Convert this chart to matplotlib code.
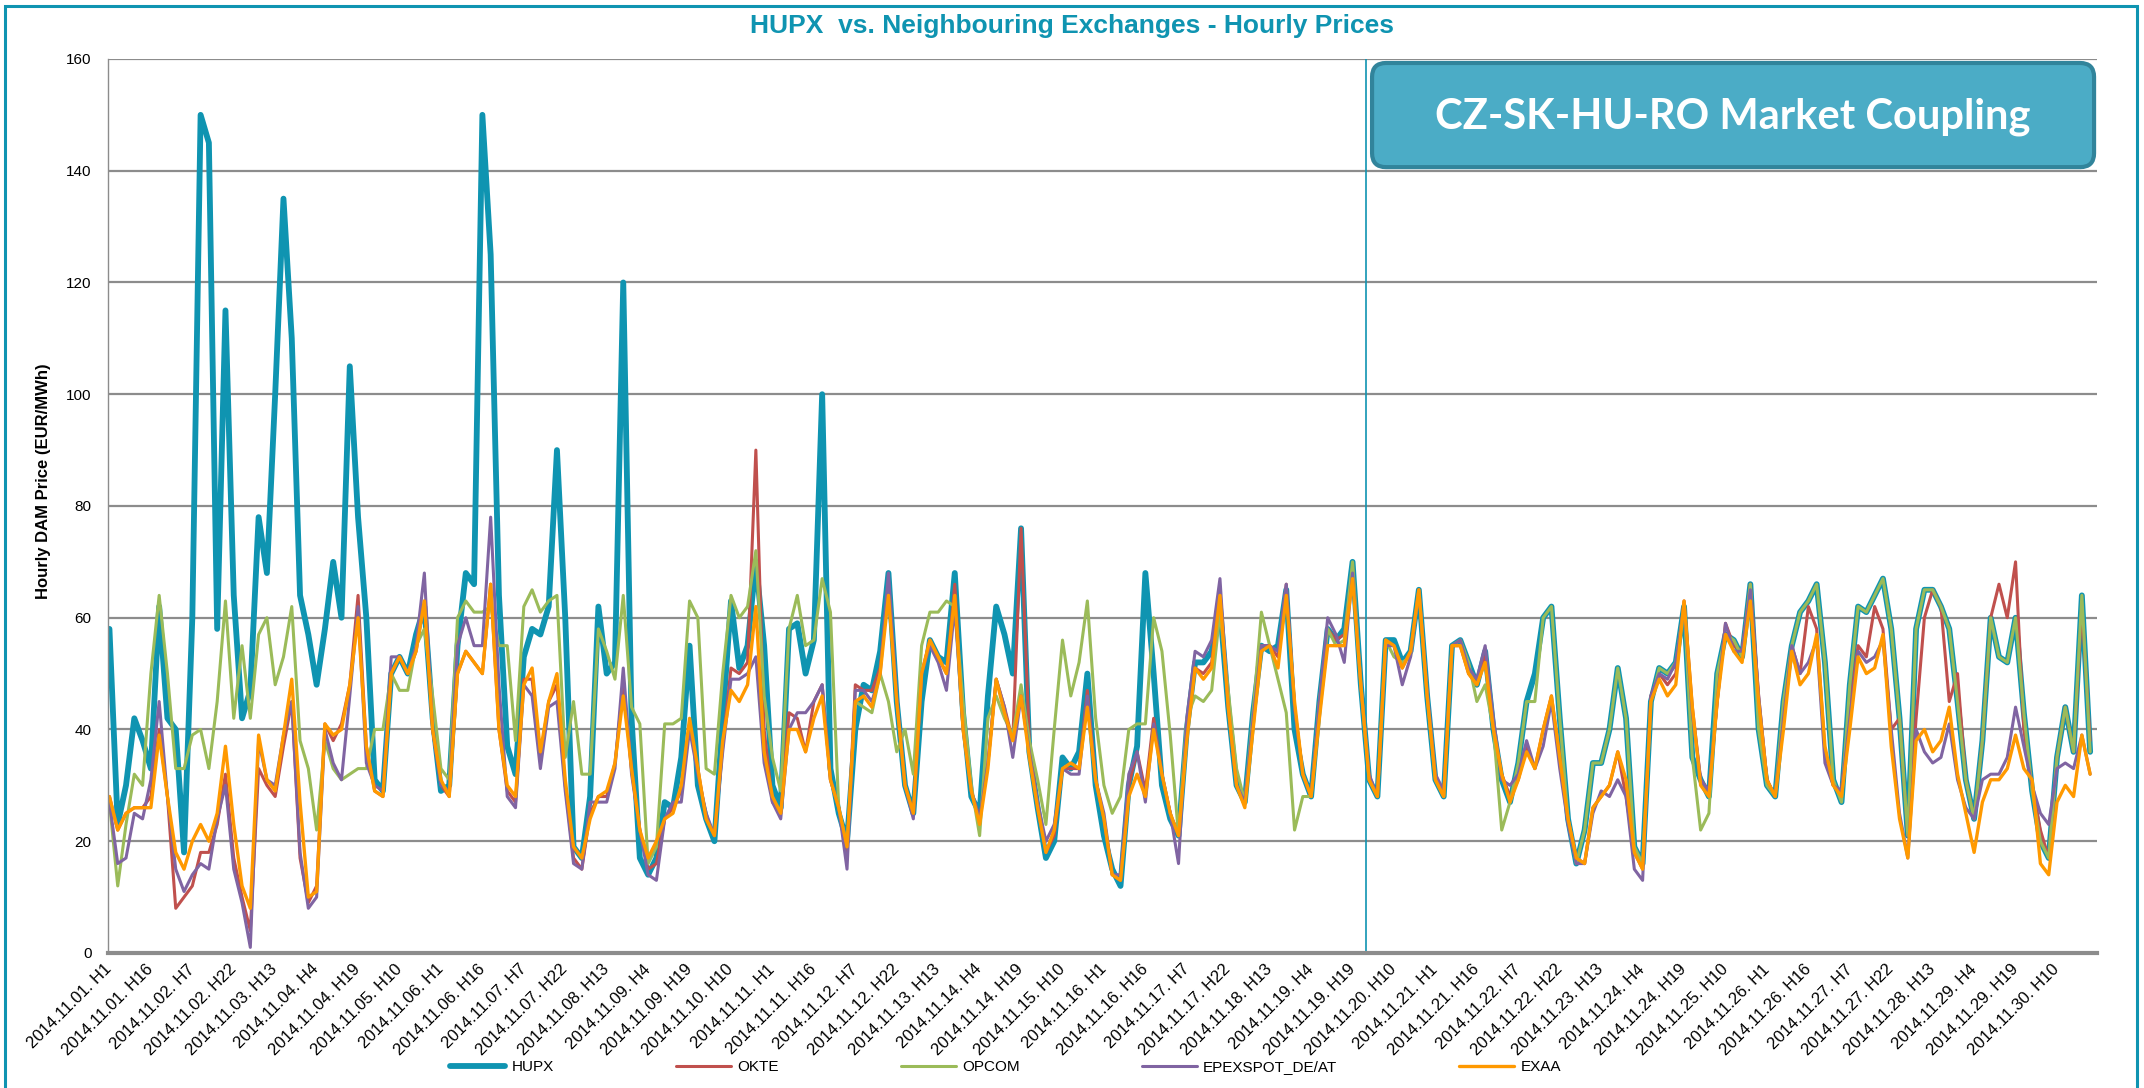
"""
HUPX vs. neighbouring exchanges - hourly day-ahead prices, November 2014
"""

# --- IMPORTS ---
import matplotlib
matplotlib.use('Agg')
import matplotlib.pyplot as plt
from matplotlib.patches import FancyBboxPatch, Rectangle

plt.rcParams['font.family'] = ['Liberation Sans', 'DejaVu Sans']

# --- DATA ---
# prices read every 3rd hour (H1, H4, H7, H10, H13, H16, H19, H22), one row per day
hours = list(range(0, 720, 3))

hupx = [
    58, 23, 30, 42, 38, 33, 62, 42,      # 11.01
    40, 18, 60, 150, 145, 58, 115, 64,   # 11.02
    42, 47, 78, 68, 100, 135, 110, 64,   # 11.03
    57, 48, 58, 70, 60, 105, 78, 60,     # 11.04
    31, 29, 50, 53, 50, 57, 62, 42,      # 11.05
    29, 30, 55, 68, 66, 150, 125, 64,    # 11.06
    37, 32, 53, 58, 57, 62, 90, 60,      # 11.07
    19, 17, 28, 62, 50, 52, 120, 42,     # 11.08
    17, 14, 17, 27, 26, 35, 55, 30,      # 11.09
    24, 20, 42, 63, 51, 55, 70, 55,      # 11.10
    30, 26, 58, 59, 50, 56, 100, 33,     # 11.11
    25, 20, 40, 48, 47, 54, 68, 45,      # 11.12
    30, 25, 45, 56, 53, 52, 68, 43,      # 11.13
    28, 25, 46, 62, 57, 50, 76, 36,      # 11.14
    26, 17, 20, 35, 33, 36, 50, 30,      # 11.15
    21, 15, 12, 30, 37, 68, 50, 30,      # 11.16
    24, 21, 40, 52, 52, 54, 62, 44,      # 11.17
    30, 27, 43, 55, 54, 55, 65, 40,      # 11.18
    32, 28, 45, 58, 56, 58, 70, 48,      # 11.19
    31, 28, 56, 56, 52, 54, 65, 46,      # 11.20
    31, 28, 55, 56, 52, 48, 54, 40,      # 11.21
    31, 27, 34, 45, 50, 60, 62, 42,      # 11.22
    24, 16, 22, 34, 34, 40, 51, 42,      # 11.23
    19, 16, 45, 51, 50, 52, 62, 35,      # 11.24
    31, 28, 50, 57, 56, 53, 66, 40,      # 11.25
    30, 28, 45, 55, 61, 63, 66, 52,      # 11.26
    31, 27, 48, 62, 61, 64, 67, 58,      # 11.27
    42, 21, 58, 65, 65, 62, 58, 45,      # 11.28
    31, 24, 38, 60, 53, 52, 60, 43,      # 11.29
    29, 20, 17, 35, 44, 36, 64, 36,      # 11.30
]

okte = [
    28, 22, 25, 26, 26, 28, 40, 28,
    8, 10, 12, 18, 18, 23, 32, 17,
    10, 4, 33, 30, 28, 37, 45, 17,
    9, 12, 41, 38, 41, 48, 64, 37,
    29, 28, 50, 53, 50, 54, 63, 40,
    30, 28, 50, 54, 52, 50, 66, 40,
    29, 27, 49, 49, 35, 45, 48, 30,
    17, 15, 25, 28, 28, 34, 48, 33,
    22, 15, 16, 24, 26, 29, 41, 33,
    24, 21, 37, 51, 50, 52, 90, 40,
    27, 25, 43, 42, 36, 45, 48, 31,
    26, 18, 48, 47, 47, 51, 66, 45,
    30, 25, 50, 56, 53, 50, 66, 41,
    29, 24, 34, 49, 44, 38, 76, 38,
    26, 18, 21, 33, 33, 33, 47, 31,
    24, 14, 13, 30, 36, 29, 42, 32,
    25, 21, 40, 51, 50, 52, 65, 44,
    30, 27, 42, 55, 55, 53, 66, 44,
    32, 28, 45, 58, 56, 57, 69, 48,
    31, 28, 56, 55, 51, 54, 65, 46,
    31, 28, 55, 55, 50, 48, 53, 40,
    32, 28, 31, 37, 33, 40, 46, 35,
    24, 17, 16, 26, 28, 30, 36, 28,
    18, 15, 46, 50, 48, 50, 63, 44,
    31, 29, 45, 59, 55, 54, 66, 46,
    31, 28, 44, 55, 50, 62, 58, 36,
    30, 29, 44, 55, 53, 62, 58, 40,
    42, 21, 42, 60, 65, 62, 45, 50,
    31, 24, 38, 60, 66, 60, 70, 40,
    30, 22, 17, 35, 44, 36, 62, 38,
]

opcom = [
    27, 12, 23, 32, 30, 50, 64, 50,
    33, 33, 39, 40, 33, 45, 63, 42,
    55, 42, 57, 60, 48, 53, 62, 38,
    33, 22, 38, 33, 31, 32, 33, 33,
    40, 40, 50, 47, 47, 55, 58, 46,
    33, 31, 60, 63, 61, 61, 62, 55,
    55, 38, 62, 65, 61, 63, 64, 35,
    45, 32, 32, 58, 54, 49, 64, 44,
    41, 16, 19, 41, 41, 42, 63, 60,
    33, 32, 50, 64, 60, 62, 72, 46,
    35, 29, 58, 64, 55, 56, 67, 61,
    26, 19, 45, 44, 43, 50, 45, 36,
    40, 32, 55, 61, 61, 63, 62, 45,
    30, 21, 42, 46, 42, 39, 48, 38,
    31, 23, 40, 56, 46, 52, 63, 42,
    30, 25, 28, 40, 41, 41, 60, 54,
    39, 21, 42, 46, 45, 47, 61, 47,
    33, 27, 43, 61, 55, 49, 43, 22,
    28, 28, 45, 58, 55, 56, 70, 48,
    31, 28, 56, 53, 52, 53, 65, 46,
    31, 28, 55, 56, 52, 45, 48, 40,
    22, 27, 34, 45, 45, 60, 62, 42,
    24, 16, 22, 34, 34, 40, 51, 42,
    19, 16, 45, 51, 50, 52, 62, 35,
    22, 25, 50, 57, 56, 53, 66, 40,
    30, 28, 45, 55, 61, 63, 66, 52,
    31, 27, 48, 62, 61, 64, 67, 58,
    42, 21, 58, 65, 65, 62, 58, 45,
    31, 24, 38, 60, 53, 52, 60, 43,
    29, 20, 17, 35, 44, 36, 64, 36,
]

epex = [
    27, 16, 17, 25, 24, 31, 45, 28,
    15, 11, 14, 16, 15, 24, 30, 15,
    9, 1, 38, 31, 30, 39, 45, 18,
    8, 10, 40, 34, 31, 46, 62, 34,
    30, 29, 53, 53, 50, 55, 68, 40,
    30, 29, 55, 60, 55, 55, 78, 48,
    28, 26, 48, 46, 33, 44, 45, 29,
    16, 15, 27, 27, 27, 33, 51, 32,
    22, 14, 13, 24, 27, 27, 40, 32,
    25, 21, 36, 49, 49, 50, 53, 34,
    27, 24, 40, 43, 43, 45, 48, 31,
    26, 15, 47, 47, 45, 50, 68, 46,
    30, 24, 50, 55, 52, 47, 62, 40,
    29, 24, 34, 49, 44, 35, 46, 36,
    27, 20, 23, 33, 32, 32, 46, 31,
    25, 14, 14, 32, 36, 27, 41, 32,
    25, 16, 42, 54, 53, 56, 67, 44,
    30, 27, 42, 55, 55, 54, 66, 44,
    32, 28, 45, 60, 57, 52, 68, 48,
    32, 28, 55, 55, 48, 53, 65, 47,
    32, 29, 55, 56, 51, 49, 55, 42,
    31, 30, 32, 38, 33, 37, 45, 33,
    23, 16, 16, 25, 29, 28, 31, 28,
    15, 13, 46, 50, 49, 52, 62, 43,
    31, 29, 45, 59, 54, 54, 65, 46,
    31, 28, 42, 55, 50, 52, 56, 34,
    30, 29, 42, 54, 52, 53, 56, 40,
    25, 17, 40, 36, 34, 35, 41, 31,
    26, 24, 31, 32, 32, 35, 44, 37,
    30, 25, 23, 33, 34, 33, 39, 32,
]

exaa = [
    28, 22, 25, 26, 26, 26, 39, 28,
    18, 15, 20, 23, 20, 25, 37, 23,
    12, 8, 39, 31, 29, 39, 49, 27,
    10, 11, 41, 39, 40, 48, 60, 37,
    29, 28, 50, 53, 50, 54, 63, 40,
    31, 28, 50, 54, 52, 50, 66, 40,
    30, 28, 48, 51, 36, 45, 50, 31,
    19, 17, 24, 28, 29, 34, 46, 33,
    22, 17, 20, 24, 25, 30, 42, 33,
    24, 21, 38, 47, 45, 48, 62, 36,
    28, 25, 40, 40, 36, 42, 46, 31,
    26, 19, 45, 46, 44, 50, 64, 45,
    30, 25, 50, 56, 53, 50, 64, 40,
    29, 23, 33, 49, 43, 38, 46, 35,
    26, 18, 22, 33, 34, 33, 44, 31,
    24, 14, 13, 28, 32, 28, 40, 32,
    25, 21, 38, 51, 49, 51, 64, 44,
    30, 26, 40, 54, 55, 51, 64, 45,
    32, 28, 42, 55, 55, 55, 67, 48,
    31, 28, 56, 55, 51, 54, 65, 46,
    31, 28, 55, 55, 50, 48, 52, 40,
    32, 27, 31, 36, 33, 40, 46, 35,
    24, 17, 16, 26, 28, 30, 36, 31,
    18, 15, 45, 49, 46, 48, 63, 44,
    30, 28, 45, 57, 54, 52, 63, 45,
    31, 28, 40, 54, 48, 50, 57, 37,
    30, 28, 40, 53, 50, 51, 57, 37,
    24, 17, 38, 40, 36, 38, 44, 32,
    25, 18, 27, 31, 31, 33, 39, 33,
    31, 16, 14, 27, 30, 28, 39, 32,
]

series_names = ['HUPX', 'OKTE', 'OPCOM', 'EPEXSPOT_DE/AT', 'EXAA']

tick_hours = list(range(0, 720, 15))
tick_labels = [
    '2014.11.01. H1', '2014.11.01. H16', '2014.11.02. H7', '2014.11.02. H22',
    '2014.11.03. H13', '2014.11.04. H4', '2014.11.04. H19', '2014.11.05. H10',
    '2014.11.06. H1', '2014.11.06. H16', '2014.11.07. H7', '2014.11.07. H22',
    '2014.11.08. H13', '2014.11.09. H4', '2014.11.09. H19', '2014.11.10. H10',
    '2014.11.11. H1', '2014.11.11. H16', '2014.11.12. H7', '2014.11.12. H22',
    '2014.11.13. H13', '2014.11.14. H4', '2014.11.14. H19', '2014.11.15. H10',
    '2014.11.16. H1', '2014.11.16. H16', '2014.11.17. H7', '2014.11.17. H22',
    '2014.11.18. H13', '2014.11.19. H4', '2014.11.19. H19', '2014.11.20. H10',
    '2014.11.21. H1', '2014.11.21. H16', '2014.11.22. H7', '2014.11.22. H22',
    '2014.11.23. H13', '2014.11.24. H4', '2014.11.24. H19', '2014.11.25. H10',
    '2014.11.26. H1', '2014.11.26. H16', '2014.11.27. H7', '2014.11.27. H22',
    '2014.11.28. H13', '2014.11.29. H4', '2014.11.29. H19', '2014.11.30. H10',
]

coupling_hour = 455                 # start of CZ-SK-HU-RO market coupling
y_ticks = [0, 20, 40, 60, 80, 100, 120, 140, 160]

# --- STYLE ---
teal = '#0F94B1'
colors = [teal, '#C0504D', '#9BBB59', '#8064A2', '#FF9900']
widths = [4.2, 2.2, 2.2, 2.2, 2.4]
grid_grey = '#8C8C8C'

# --- FIGURE ---
fig = plt.figure(figsize=(21.44, 10.88), dpi=100)
ax = fig.add_axes([0.0504, 0.1241, 0.9277, 0.8217])

lines = []
for values, name, c, lw in zip([hupx, okte, opcom, epex, exaa], series_names, colors, widths):
    ln, = ax.plot(hours, values, color=c, linewidth=lw, label=name,
                  solid_joinstyle='round', solid_capstyle='round')
    lines.append(ln)

ax.axvline(coupling_hour, color=teal, linewidth=1.2, zorder=1)

ax.set_xlim(-0.5, 719.5)
ax.set_ylim(0, 160)
ax.set_yticks(y_ticks)
ax.set_xticks(tick_hours)
ax.set_xticklabels(tick_labels, rotation=45, ha='right', va='center',
                   rotation_mode='anchor', fontsize=12)
ax.tick_params(axis='both', length=0)
ax.tick_params(axis='y', pad=12, labelsize=11)
ax.tick_params(axis='x', pad=10)

ax.yaxis.grid(True, color=grid_grey, linewidth=1.6)
ax.set_axisbelow(True)
for side in ['top', 'right']:
    ax.spines[side].set_visible(False)
ax.spines['bottom'].set_color(grid_grey)
ax.spines['bottom'].set_linewidth(3)
ax.spines['left'].set_color(grid_grey)
ax.spines['left'].set_linewidth(1)

# --- MARKET COUPLING BOX ---
box = FancyBboxPatch((0.6355, 0.879), 0.363, 0.1165,
                     boxstyle='round,pad=0,rounding_size=0.007',
                     mutation_aspect=1989 / 894,
                     transform=ax.transAxes, facecolor='#4BACC6',
                     edgecolor='#31849B', linewidth=3, zorder=5)
ax.add_patch(box)
ax.text(0.817, 0.935, 'CZ-SK-HU-RO Market Coupling', transform=ax.transAxes,
        ha='center', va='center', color='white', fontsize=30,
        fontweight='bold', family=['Lato', 'DejaVu Sans'], zorder=6)

# --- TEXTS ---
fig.text(0.5, 1 - 26 / 1088, 'HUPX  vs. Neighbouring Exchanges - Hourly Prices',
         ha='center', va='center', color=teal, fontsize=19, fontweight='bold')
fig.text(0.0205, 0.558, 'Hourly DAM Price (EUR/MWh)', rotation=90,
         ha='center', va='center', fontsize=12, fontweight='bold')

fig.legend(handles=lines, loc='center', bbox_to_anchor=(0.469, 0.019),
           ncol=5, frameon=False, fontsize=11, handlelength=3.6,
           columnspacing=8, handletextpad=0.4)

# outer frame
fig.add_artist(Rectangle((0.0024, -0.02), 0.9944, 1.0145, transform=fig.transFigure,
                         fill=False, edgecolor=teal, linewidth=2.2))

fig.savefig('out.png', dpi=100)
